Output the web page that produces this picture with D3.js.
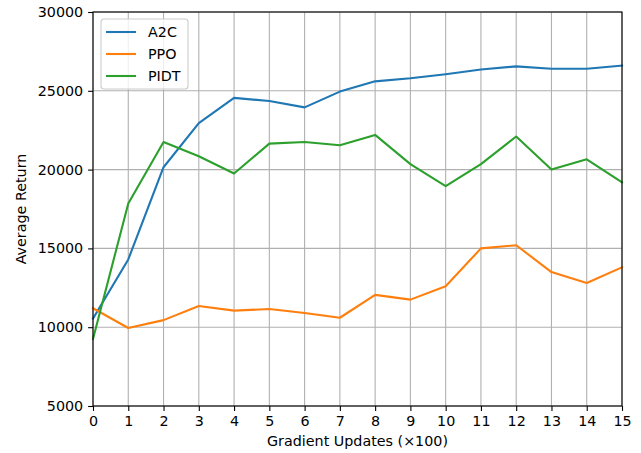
<!DOCTYPE html>
<html>
<head>
<meta charset="utf-8">
<script src="https://cdn.jsdelivr.net/npm/d3@7"></script>
<style>
  body { margin: 0; background: #fff; }
  text { font-family: "DejaVu Sans", sans-serif; fill: #000; }
</style>
</head>
<body>
<div id="app"></div>
<script>
// gradient updates (x100)
const steps = d3.range(0, 16);
const a2c = [10550, 14300, 20150, 22950, 24550, 24350, 23950, 24950, 25600, 25800, 26050, 26350, 26550, 26400, 26400, 26600];
const ppo = [11200, 9950, 10450, 11350, 11050, 11150, 10900, 10600, 12050, 11750, 12600, 15000, 15200, 13500, 12800, 13800];
const pidt = [9250, 17850, 21750, 20850, 19750, 21650, 21750, 21550, 22200, 20350, 18950, 20350, 22100, 20000, 20650, 19200];
const yTicks = [5000, 10000, 15000, 20000, 25000, 30000];

const series = [
    { name: "A2C", values: a2c, color: "#1f77b4" },
    { name: "PPO", values: ppo, color: "#ff7f0e" },
    { name: "PIDT", values: pidt, color: "#2ca02c" }
];

const draw = () => {
    const width = 641;
    const height = 453;
    const margin = { top: 12, right: 19, bottom: 47, left: 93 };
    const fs = 14.3;

    const svg = d3.select('#app')
        .append('svg')
        .attr('width', width)
        .attr('height', height);

    const x = d3.scaleLinear().domain([0, 15]).range([margin.left, width - margin.right]);
    const y = d3.scaleLinear().domain([5000, 30000]).range([height - margin.bottom, margin.top]);

    // grid
    const grid = svg.append('g');
    grid.selectAll('.gx')
        .data(steps)
        .enter()
        .append('line')
        .attr('x1', d => x(d)).attr('x2', d => x(d))
        .attr('y1', y(5000)).attr('y2', y(30000))
        .attr('stroke', '#b0b0b0')
        .attr('stroke-width', 1.1);
    grid.selectAll('.gy')
        .data(yTicks)
        .enter()
        .append('line')
        .attr('x1', x(0)).attr('x2', x(15))
        .attr('y1', d => y(d)).attr('y2', d => y(d))
        .attr('stroke', '#b0b0b0')
        .attr('stroke-width', 1.1);

    // lines
    const line = d3.line()
        .x((d, i) => x(steps[i]))
        .y(d => y(d));

    svg.append('g')
        .selectAll('path')
        .data(series)
        .enter()
        .append('path')
        .attr('d', d => line(d.values))
        .style('fill', 'none')
        .attr('stroke', d => d.color)
        .attr('stroke-width', 2.1)
        .attr('stroke-linejoin', 'round')
        .attr('stroke-linecap', 'square');

    // axes
    const xAxis = svg.append('g')
        .attr('transform', `translate(0, ${y(5000)})`)
        .call(d3.axisBottom(x).tickValues(steps).tickSize(4.9).tickPadding(4.9).tickFormat(d3.format('d')));
    const yAxis = svg.append('g')
        .attr('transform', `translate(${x(0)}, 0)`)
        .call(d3.axisLeft(y).tickValues(yTicks).tickSize(4.9).tickPadding(4.9).tickFormat(d3.format('d')));

    [xAxis, yAxis].forEach(a => {
        a.select('.domain').remove();
        a.selectAll('line').attr('stroke', '#000').attr('stroke-width', 1.1);
        a.selectAll('text').attr('font-size', fs).attr('font-family', '"DejaVu Sans", sans-serif').attr('fill', '#000');
    });

    // frame
    svg.append('rect')
        .attr('x', x(0)).attr('y', y(30000))
        .attr('width', x(15) - x(0))
        .attr('height', y(5000) - y(30000))
        .attr('fill', 'none')
        .attr('stroke', '#000')
        .attr('stroke-width', 1.1);

    // axis labels
    svg.append('text')
        .text('Gradient Updates (×100)')
        .attr('x', (x(0) + x(15)) / 2)
        .attr('y', 446)
        .attr('text-anchor', 'middle')
        .attr('font-size', fs);

    svg.append('text')
        .text('Average Return')
        .attr('transform', `translate(26, ${(y(5000) + y(30000)) / 2}) rotate(-90)`)
        .attr('text-anchor', 'middle')
        .attr('font-size', fs);

    // legend
    const legend = svg.append('g').attr('transform', 'translate(101, 19)');
    legend.append('rect')
        .attr('width', 87).attr('height', 70)
        .attr('rx', 3)
        .attr('fill', '#fff')
        .attr('fill-opacity', 0.8)
        .attr('stroke', '#cccccc')
        .attr('stroke-width', 1.1);

    const items = legend.selectAll('.item')
        .data(series)
        .enter()
        .append('g')
        .attr('transform', (d, i) => `translate(0, ${13 + i * 22})`);
    items.append('line')
        .attr('x1', 5).attr('x2', 35)
        .attr('stroke', d => d.color)
        .attr('stroke-width', 2.1);
    items.append('text')
        .text(d => d.name)
        .attr('x', 47)
        .attr('dy', '0.36em')
        .attr('font-size', fs);
};

draw();
</script>
</body>
</html>
